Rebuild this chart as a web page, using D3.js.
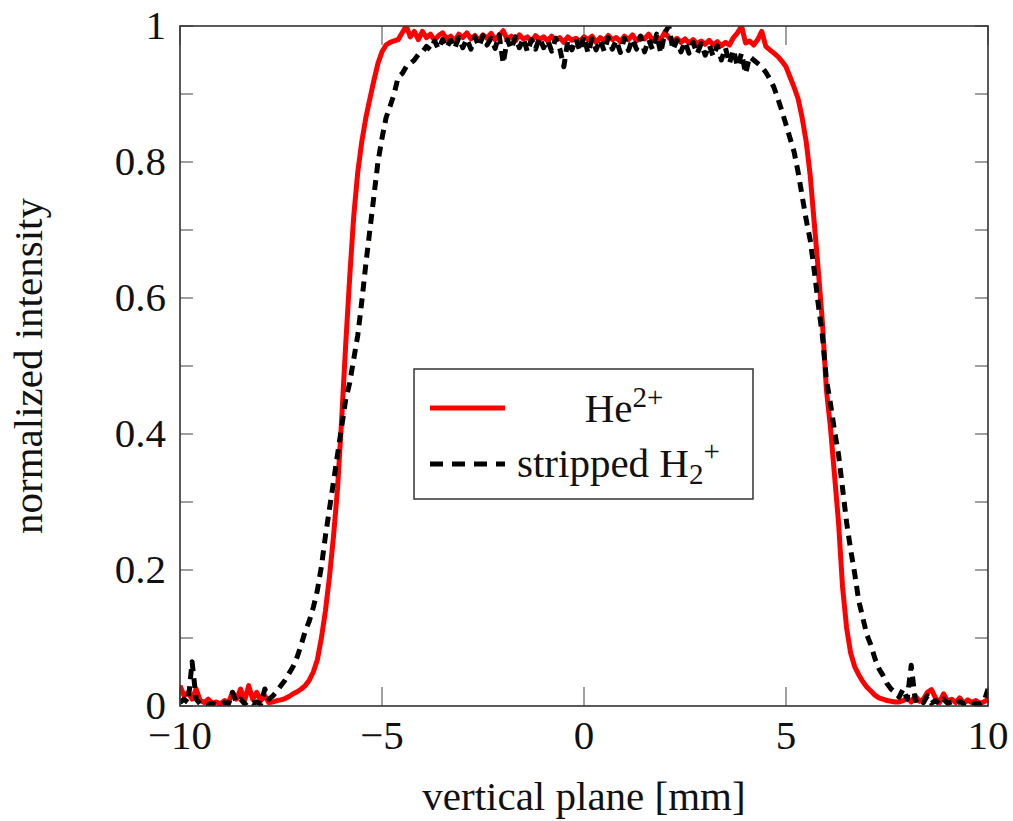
<!DOCTYPE html>
<html>
<head>
<meta charset="utf-8">
<script src="https://cdn.jsdelivr.net/npm/d3@7"></script>
<style>
  html, body { margin: 0; padding: 0; background: #fff; }
  svg text { font-family: "Liberation Serif", "DejaVu Serif", serif; fill: #111; }
</style>
</head>
<body>
<svg id="chart" width="1013" height="821"></svg>
<script>
// ---- data (positions in mm, normalized intensity) ----
const positions = [
 -10,-9.9,-9.8,-9.7,-9.6,-9.5,-9.4,-9.3,-9.2,-9.1,
 -9,-8.9,-8.8,-8.7,-8.6,-8.5,-8.4,-8.3,-8.2,-8.1,
 -8,-7.9,-7.8,-7.7,-7.6,-7.5,-7.4,-7.3,-7.2,-7.1,
 -7,-6.9,-6.8,-6.7,-6.6,-6.5,-6.4,-6.3,-6.2,-6.1,
 -6,-5.9,-5.8,-5.7,-5.6,-5.5,-5.4,-5.3,-5.2,-5.1,
 -5,-4.9,-4.8,-4.7,-4.6,-4.5,-4.4,-4.3,-4.2,-4.1,
 -4,-3.9,-3.8,-3.7,-3.6,-3.5,-3.4,-3.3,-3.2,-3.1,
 -3,-2.9,-2.8,-2.7,-2.6,-2.5,-2.4,-2.3,-2.2,-2.1,
 -2,-1.9,-1.8,-1.7,-1.6,-1.5,-1.4,-1.3,-1.2,-1.1,
 -1,-0.9,-0.8,-0.7,-0.6,-0.5,-0.4,-0.3,-0.2,-0.1,
 0,0.1,0.2,0.3,0.4,0.5,0.6,0.7,0.8,0.9,
 1,1.1,1.2,1.3,1.4,1.5,1.6,1.7,1.8,1.9,
 2,2.1,2.2,2.3,2.4,2.5,2.6,2.7,2.8,2.9,
 3,3.1,3.2,3.3,3.4,3.5,3.6,3.7,3.8,3.9,
 4,4.1,4.2,4.3,4.4,4.5,4.6,4.7,4.8,4.9,
 5,5.1,5.2,5.3,5.4,5.5,5.6,5.7,5.8,5.9,
 6,6.1,6.2,6.3,6.4,6.5,6.6,6.7,6.8,6.9,
 7,7.1,7.2,7.3,7.4,7.5,7.6,7.7,7.8,7.9,
 8,8.1,8.2,8.3,8.4,8.5,8.6,8.7,8.8,8.9,
 9,9.1,9.2,9.3,9.4,9.5,9.6,9.7,9.8,9.9,
 10
];

const heValues = [
 0.03,0.015,0.02,0.01,0.025,0.008,0.005,0.01,0.004,0.006,
 0.003,0.008,0.005,0.02,0.01,0.025,0.008,0.03,0.01,0.02,
 0.008,0.015,0.005,0.006,0.008,0.009,0.011,0.014,0.018,0.021,
 0.025,0.03,0.038,0.05,0.068,0.1,0.14,0.19,0.25,0.32,
 0.42,0.53,0.63,0.72,0.785,0.83,0.865,0.893,0.92,0.945,
 0.962,0.972,0.976,0.978,0.98,0.99,1.0,0.984,0.992,0.98,
 0.992,0.983,0.988,0.979,0.986,0.99,0.981,0.985,0.978,0.988,
 0.983,0.99,0.981,0.986,0.979,0.987,0.982,0.989,0.98,0.986,
 0.993,0.98,0.985,0.978,0.987,0.981,0.984,0.977,0.986,0.98,
 0.984,0.978,0.985,0.979,0.983,0.976,0.984,0.979,0.982,0.977,
 0.984,0.98,0.985,0.976,0.983,0.979,0.986,0.98,0.983,0.977,
 0.985,0.98,0.987,0.978,0.985,0.981,0.988,0.979,0.984,0.98,
 0.991,0.983,0.978,0.982,0.976,0.981,0.975,0.98,0.974,0.978,
 0.973,0.979,0.972,0.977,0.971,0.976,0.972,0.983,0.99,1.0,
 0.975,0.978,0.972,0.98,0.992,0.97,0.965,0.96,0.955,0.948,
 0.94,0.925,0.91,0.893,0.865,0.83,0.78,0.71,0.64,0.565,
 0.465,0.41,0.34,0.27,0.175,0.115,0.078,0.058,0.046,0.036,
 0.028,0.022,0.016,0.012,0.01,0.008,0.007,0.006,0.006,0.008,
 0.012,0.006,0.015,0.007,0.01,0.02,0.024,0.012,0.005,0.018,
 0.007,0.01,0.005,0.012,0.004,0.009,0.005,0.008,0.004,0.006,
 0.01
];

const h2Values = [
 0.005,0.01,0.005,0.065,0.01,0.003,0.005,0.002,0.004,0.002,
 0.003,0.005,0.003,0.02,0.005,0.01,0.003,0.008,0.004,0.006,
 0.003,0.025,0.01,0.015,0.022,0.03,0.038,0.048,0.058,0.072,
 0.09,0.11,0.125,0.145,0.17,0.205,0.25,0.29,0.33,0.37,
 0.41,0.45,0.475,0.51,0.545,0.595,0.65,0.70,0.75,0.80,
 0.835,0.865,0.882,0.90,0.925,0.93,0.94,0.945,0.95,0.958,
 0.962,0.97,0.965,0.978,0.966,0.98,0.968,0.979,0.967,0.983,
 0.968,0.981,0.966,0.984,0.97,0.986,0.972,0.982,0.967,0.987,
 0.945,0.98,0.966,0.984,0.968,0.982,0.962,0.98,0.966,0.983,
 0.968,0.979,0.963,0.982,0.967,0.94,0.979,0.965,0.981,0.963,
 0.985,0.96,0.981,0.965,0.98,0.963,0.983,0.966,0.979,0.961,
 0.982,0.964,0.981,0.966,0.985,0.962,0.98,0.965,0.988,0.96,
 0.99,1.0,0.965,0.979,0.962,0.977,0.96,0.976,0.959,0.974,
 0.957,0.972,0.955,0.971,0.95,0.968,0.945,0.965,0.94,0.96,
 0.93,0.955,0.95,0.945,0.94,0.932,0.922,0.91,0.893,0.875,
 0.855,0.835,0.815,0.785,0.75,0.715,0.685,0.64,0.59,0.545,
 0.48,0.445,0.405,0.37,0.32,0.27,0.23,0.195,0.155,0.13,
 0.105,0.09,0.07,0.055,0.045,0.033,0.025,0.02,0.013,0.025,
 0.01,0.06,0.008,0.012,0.005,0.015,0.004,0.008,0.003,0.01,
 0.004,0.006,0.002,0.007,0.003,0.005,0.002,0.004,0.003,0.006,
 0.025
];

const xTicks = [-10, -5, 0, 5, 10];
const xTickLabels = ["\u221210", "\u22125", "0", "5", "10"];
const yMinorTicks = [0, 0.1, 0.2, 0.3, 0.4, 0.5, 0.6, 0.7, 0.8, 0.9, 1];
const yTicks = [0, 0.2, 0.4, 0.6, 0.8, 1];
const yTickLabels = ["0", "0.2", "0.4", "0.6", "0.8", "1"];
const seriesNames = ["He", "stripped H"];

// ---- layout ----
const svg = d3.select("#chart");
const plot = { left: 180, right: 988, top: 26, bottom: 706 };
const x = d3.scaleLinear().domain([-10, 10]).range([plot.left, plot.right]);
const y = d3.scaleLinear().domain([0, 1]).range([plot.bottom, plot.top]);
const FS = 41;

svg.append("defs").append("clipPath").attr("id", "clip")
  .append("rect").attr("x", plot.left).attr("y", plot.top)
  .attr("width", plot.right - plot.left).attr("height", plot.bottom - plot.top);

// ticks (inward, on all four sides)
const tickColor = "#808080";
const tg = svg.append("g").attr("stroke", tickColor).attr("stroke-width", 1.5);
xTicks.forEach(t => {
  tg.append("line").attr("x1", x(t)).attr("x2", x(t)).attr("y1", plot.bottom).attr("y2", plot.bottom - 19);
  tg.append("line").attr("x1", x(t)).attr("x2", x(t)).attr("y1", plot.top).attr("y2", plot.top + 19);
});
yMinorTicks.forEach(t => {
  tg.append("line").attr("x1", plot.left).attr("x2", plot.left + 13).attr("y1", y(t)).attr("y2", y(t));
  tg.append("line").attr("x1", plot.right).attr("x2", plot.right - 13).attr("y1", y(t)).attr("y2", y(t));
});

// curves
const line = d3.line().x((d, i) => x(positions[i])).y(d => y(d));
const cg = svg.append("g").attr("clip-path", "url(#clip)");
cg.append("path").datum(heValues).attr("d", line)
  .attr("fill", "none").attr("stroke", "#ff0000").attr("stroke-width", 5)
  .attr("stroke-linejoin", "round");
cg.append("path").datum(h2Values).attr("d", line)
  .attr("fill", "none").attr("stroke", "#000").attr("stroke-width", 5)
  .attr("stroke-dasharray", "10,7").attr("stroke-linejoin", "round");

// frame
svg.append("rect").attr("x", plot.left).attr("y", plot.top)
  .attr("width", plot.right - plot.left).attr("height", plot.bottom - plot.top)
  .attr("fill", "none").attr("stroke", "#333").attr("stroke-width", 1.6);

// tick labels
svg.append("g").selectAll("text").data(xTicks).join("text")
  .attr("x", d => x(d)).attr("y", 749).attr("text-anchor", "middle")
  .attr("font-size", FS).text((d, i) => xTickLabels[i]);
svg.append("g").selectAll("text").data(yTicks).join("text")
  .attr("x", 166).attr("y", d => y(d) + 13).attr("text-anchor", "end")
  .attr("font-size", FS).text((d, i) => yTickLabels[i]);

// axis titles
svg.append("text").attr("x", x(0)).attr("y", 810).attr("text-anchor", "middle")
  .attr("font-size", FS).text("vertical plane [mm]");
svg.append("text").attr("transform", `translate(42,${(plot.top + plot.bottom) / 2}) rotate(-90)`)
  .attr("text-anchor", "middle").attr("font-size", FS).text("normalized intensity");

// legend
const lg = svg.append("g");
lg.append("rect").attr("x", 414).attr("y", 369).attr("width", 339).attr("height", 130)
  .attr("fill", "#fff").attr("stroke", "#333").attr("stroke-width", 1.5);
lg.append("line").attr("x1", 430).attr("x2", 505).attr("y1", 408).attr("y2", 408)
  .attr("stroke", "#ff0000").attr("stroke-width", 5);
lg.append("line").attr("x1", 430).attr("x2", 505).attr("y1", 464).attr("y2", 464)
  .attr("stroke", "#000").attr("stroke-width", 5).attr("stroke-dasharray", "13,9");
const t1 = lg.append("text").attr("x", 624).attr("y", 422).attr("text-anchor", "middle").attr("font-size", FS);
t1.append("tspan").text(seriesNames[0]);
t1.append("tspan").attr("font-size", 29).attr("dy", -15).text("2+");
const t2 = lg.append("text").attr("x", 517).attr("y", 477).attr("font-size", FS);
t2.append("tspan").text(seriesNames[1]);
t2.append("tspan").attr("font-size", 29).attr("dy", 7).text("2");
t2.append("tspan").attr("font-size", 29).attr("dy", -23).text("+");
</script>
</body>
</html>
